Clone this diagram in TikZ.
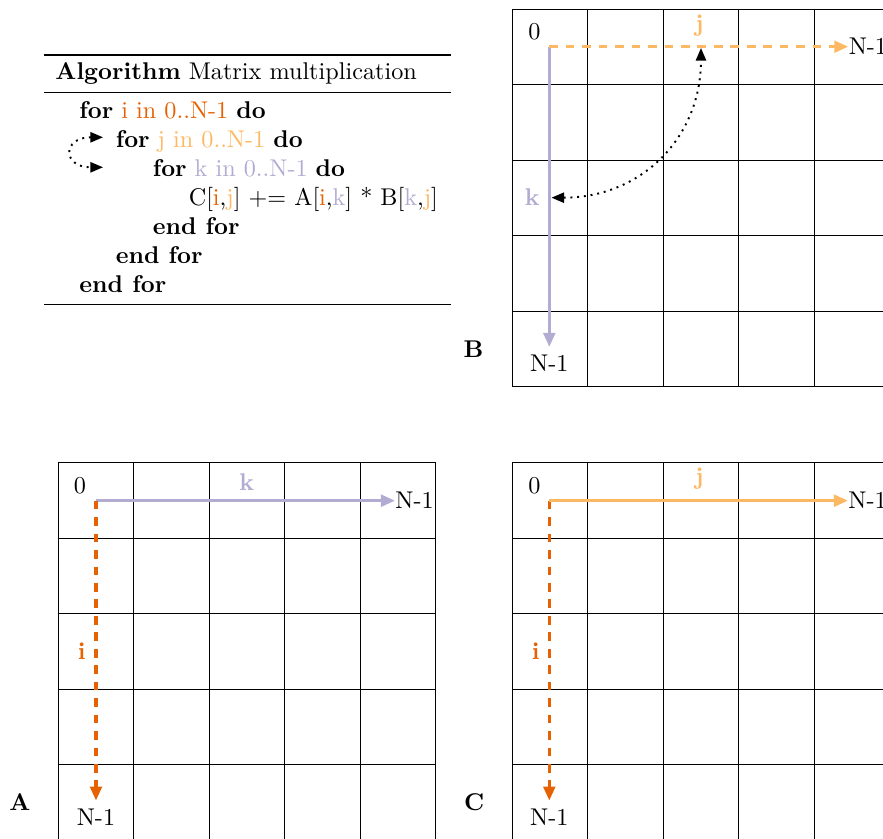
\documentclass[tikz,border=0pt]{standalone}
\usetikzlibrary{arrows.meta}
\definecolor{icol}{HTML}{E66101}
\definecolor{jcol}{HTML}{FDB863}
\definecolor{kcol}{HTML}{B2ABD2}
\begin{document}
\begin{tikzpicture}[x=0.4132pt, y=-0.4132pt,
  gridline/.style={line width=0.4pt, black},
  idx/.style={line width=1.35pt, -{Triangle[length=5.8pt,width=4.8pt]}},
  dsh/.style={dash pattern=on 3.6pt off 3.2pt},
  loopar/.style={line width=0.8pt, dotted, {Triangle[length=5.2pt,width=4.2pt]}-{Triangle[length=5.2pt,width=4.2pt]}},
  lbl/.style={anchor=base, inner sep=0pt},
  algo/.style={anchor=base west, inner sep=0pt},
  endlbl/.style={anchor=west, inner sep=0pt},
  botlbl/.style={anchor=base},
]
\clip (0,0) rectangle (883,839);

% ---------- algorithm ----------
\draw[line width=0.8pt] (44,54.7) -- (451,54.7);
\node[algo] (title) at (55,79.3) {\textbf{Algorithm} Matrix multiplication};
\draw[line width=0.4pt] (44,92.3) -- (451,92.3);
\node[algo] (l1) at (79,118.3) {\textbf{for} \textcolor{icol}{i in 0..N-1} \textbf{do}};
\node[algo] (l2) at (115.3,147.3) {\textbf{for} \textcolor{jcol}{j in 0..N-1} \textbf{do}};
\node[algo] (l3) at (152.3,176.4) {\textbf{for} \textcolor{kcol}{k in 0..N-1} \textbf{do}};
\node[algo] (l4) at (188.3,205.4) {C[\textcolor{icol}{i},\textcolor{jcol}{j}] += A[\textcolor{icol}{i},\textcolor{kcol}{k}] * B[\textcolor{kcol}{k},\textcolor{jcol}{j}]};
\node[algo] (l5) at (152.3,234.5) {\textbf{end for}};
\node[algo] (l6) at (115.3,263.5) {\textbf{end for}};
\node[algo] (l7) at (79,292.5) {\textbf{end for}};
\draw[line width=0.4pt] (44,304) -- (451,304);
\coordinate (la1) at (103,137.3);
\coordinate (la2) at (103,167.3);
\draw[loopar] (la1) .. controls (62,137.3) and (62,167.3) .. (la2);

% ---------- grids ----------
\foreach \gx/\gy in {512.3/9, 58.3/462.7, 512.3/462.7} {
  \foreach \i in {0,...,5} {
    \draw[gridline] ({\gx+\i*75.5},\gy) -- ({\gx+\i*75.5},{\gy+377.5});
    \draw[gridline] (\gx,{\gy+\i*75.5}) -- ({\gx+377.5},{\gy+\i*75.5});
  }
}

% ---------- B ----------
\coordinate (bo) at (549.3,46.7);
\node[endlbl] (bNr) at (848.3,46.7) {N-1};
\node[botlbl] (bNb) at (549.3,372) {N-1};
\node[lbl] (b0) at (534.3,39.3) {0};
\node[lbl, text=jcol] (bj) at (699.3,31.5) {\textbf{j}};
\node[lbl, text=kcol] (bk) at (532.3,205.7) {\textbf{k}};
\node[lbl] (bB) at (473.5,357.3) {\textbf{B}};
\draw[idx, kcol] (bo) -- (bNb.north);
\draw[idx, jcol, dsh] (bo) -- (bNr.west);
\coordinate (bkt) at (551.5,197.7);
\coordinate (bjt) at (701,48);
\draw[loopar] (bkt) .. controls (641,197.7) and (701,138) .. (bjt);

% ---------- A ----------
\coordinate (ao) at (96,500.7);
\node[endlbl] (aNr) at (395,500.7) {N-1};
\node[botlbl] (aNb) at (96,825.7) {N-1};
\node[lbl] (a0) at (80,493.3) {0};
\node[lbl, text=kcol] (ak) at (246.7,490.7) {\textbf{k}};
\node[lbl, text=icol] (ai) at (81.7,659.3) {\textbf{i}};
\node[lbl] (aA) at (20,810.7) {\textbf{A}};
\draw[idx, kcol] (ao) -- (aNr.west);
\draw[idx, icol, dsh] (ao) -- (aNb.north);

% ---------- C ----------
\coordinate (co) at (549.3,500.7);
\node[endlbl] (cNr) at (848,500.7) {N-1};
\node[botlbl] (cNb) at (549.3,825.7) {N-1};
\node[lbl] (c0) at (534.3,493.3) {0};
\node[lbl, text=jcol] (cj) at (699.3,485) {\textbf{j}};
\node[lbl, text=icol] (ci) at (535.7,659.3) {\textbf{i}};
\node[lbl] (cC) at (474.3,810.7) {\textbf{C}};
\draw[idx, icol, dsh] (co) -- (cNb.north);
\draw[idx, jcol] (co) -- (cNr.west);
\end{tikzpicture}
\end{document}
